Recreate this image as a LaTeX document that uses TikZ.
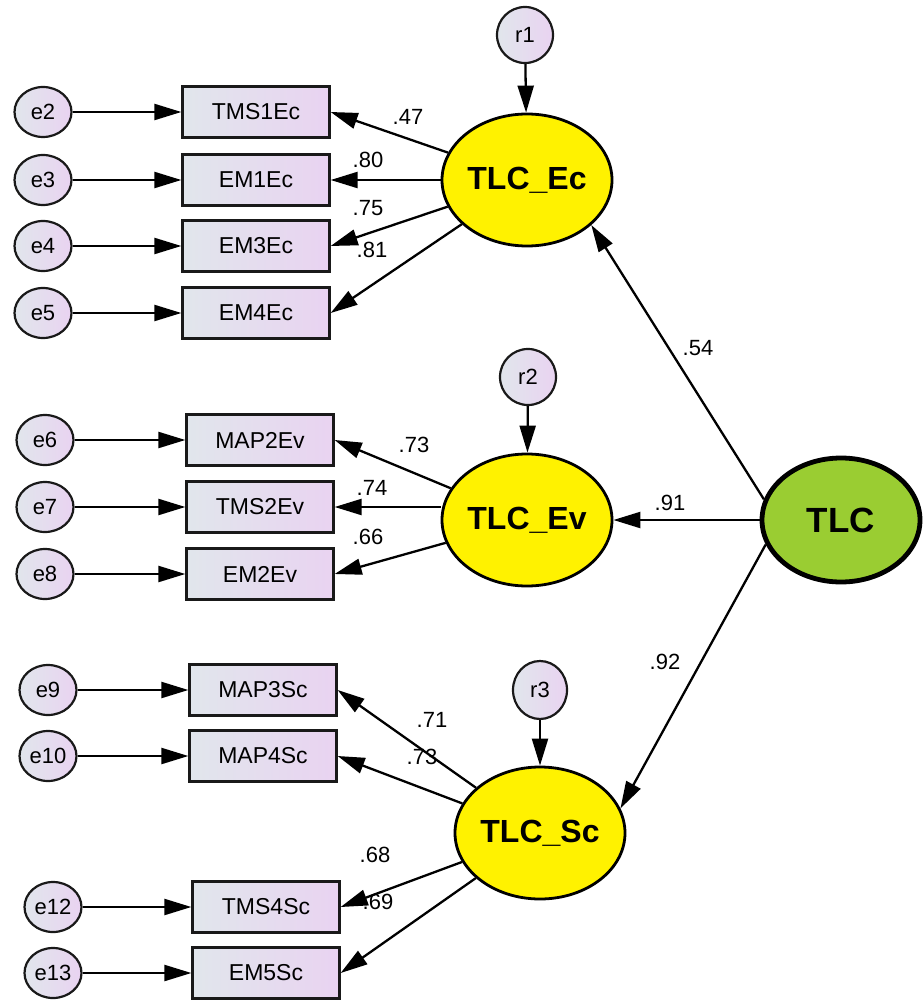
\documentclass[tikz,border=0pt]{standalone}
\usepackage{fontspec}
\setmainfont{Liberation Sans}
\usetikzlibrary{arrows.meta,shapes.geometric}
\definecolor{boxL}{HTML}{E1E6EC}
\definecolor{boxR}{HTML}{E9D3F1}
\definecolor{tlcgreen}{HTML}{9ACD32}
\tikzset{
  obs/.style={rectangle, draw=black!90, line width=2.3pt, minimum width=147pt,
    minimum height=51pt, inner sep=0pt, left color=boxL, right color=boxR,
    font=\fontsize{23}{26}\selectfont},
  err/.style={ellipse, draw=black!90, line width=2.2pt, minimum width=57pt,
    minimum height=50pt, inner sep=0pt, left color=boxL, right color=boxR,
    font=\fontsize{22}{25}\selectfont},
  resid/.style={err, minimum width=56pt, minimum height=56pt,
    font=\fontsize{22}{25}\selectfont},
  lat/.style={ellipse, draw, line width=2.8pt, fill=yellow, minimum width=170pt,
    minimum height=132pt, inner sep=0pt, font=\bfseries\fontsize{32}{36}\selectfont},
  toplat/.style={lat, fill=tlcgreen, line width=4.8pt, minimum width=158pt,
    minimum height=124pt, font=\bfseries\fontsize{35}{40}\selectfont},
  arr/.style={-{Triangle[length=27pt,width=16pt]}, line width=2.3pt},
  coef/.style={inner sep=0pt, font=\fontsize{22}{25}\selectfont}
}
\begin{document}
\begin{tikzpicture}[x=1pt,y=-1pt]
\useasboundingbox (0,0) rectangle (922,1000);

% second-order factor
\node[toplat] (TLC) at (841,520) {TLC};

% first-order factors and their residuals
\node[lat] (Ec) at (527,180) {TLC\_Ec};
\node[lat] (Ev) at (527,520) {TLC\_Ev};
\node[lat] (Sc) at (540,833) {TLC\_Sc};
\node[resid] (r1) at (525,35) {r1};
\node[resid] (r2) at (528,377) {r2};
\node[resid, minimum width=54pt, minimum height=58pt] (r3) at (540,690) {r3};

% indicators of TLC_Ec
\node[obs] (TMS1Ec) at (256,112) {TMS1Ec};
\node[obs] (EM1Ec)  at (256,180) {EM1Ec};
\node[obs] (EM3Ec)  at (256,246) {EM3Ec};
\node[obs] (EM4Ec)  at (256,313) {EM4Ec};
\node[err] (e2) at (43,112) {e2};
\node[err] (e3) at (43,180) {e3};
\node[err] (e4) at (43,246) {e4};
\node[err] (e5) at (43,313) {e5};

% indicators of TLC_Ev
\node[obs] (MAP2Ev) at (260,440) {MAP2Ev};
\node[obs] (TMS2Ev) at (260,507) {TMS2Ev};
\node[obs] (EM2Ev)  at (260,574) {EM2Ev};
\node[err] (e6) at (45,440) {e6};
\node[err] (e7) at (45,507) {e7};
\node[err] (e8) at (45,574) {e8};

% indicators of TLC_Sc
\node[obs] (MAP3Sc) at (263,690) {MAP3Sc};
\node[obs] (MAP4Sc) at (263,756) {MAP4Sc};
\node[obs] (TMS4Sc) at (266,907) {TMS4Sc};
\node[obs] (EM5Sc)  at (266,973) {EM5Sc};
\node[err] (e9)  at (48,690) {e9};
\node[err] (e10) at (48,756) {e10};
\node[err] (e12) at (53,907) {e12};
\node[err] (e13) at (53,973) {e13};

% error paths
\foreach \e/\v in {e2/TMS1Ec,e3/EM1Ec,e4/EM3Ec,e5/EM4Ec,e6/MAP2Ev,e7/TMS2Ev,
                   e8/EM2Ev,e9/MAP3Sc,e10/MAP4Sc,e12/TMS4Sc,e13/EM5Sc}
  \draw[arr] (\e) -- (\v.west);

% residual paths
\draw[arr] (r1) -- (Ec);
\draw[arr] (r2) -- (Ev);
\draw[arr] (r3) -- (Sc);

% loadings
\foreach \f/\v in {Ec/TMS1Ec,Ec/EM1Ec,Ec/EM3Ec,Ec/EM4Ec,Ev/MAP2Ev,
                   Ev/EM2Ev,Sc/MAP3Sc,Sc/MAP4Sc,Sc/TMS4Sc,Sc/EM5Sc}
  \draw[arr] (\f) -- (\v.east);
\draw[arr] (TMS2Ev.east -| Ev.west) -- (TMS2Ev.east);

% structural paths
\draw[arr] (TLC.165) -- (Ec.325);
\draw[arr] (TLC.west) -- (Ev.east);
\draw[arr] (TLC.198) -- (Sc.17);

% standardized coefficients
\node[coef] at (408,117) {.47};
\node[coef] at (368,160) {.80};
\node[coef] at (368,208) {.75};
\node[coef] at (372,250) {.81};
\node[coef] at (414,445) {.73};
\node[coef] at (372,488) {.74};
\node[coef] at (368,537) {.66};
\node[coef] at (432,720) {.71};
\node[coef] at (422,757) {.73};
\node[coef] at (375,855) {.68};
\node[coef] at (378,902) {.69};
\node[coef] at (698,348) {.54};
\node[coef] at (670,503) {.91};
\node[coef] at (665,662) {.92};
\end{tikzpicture}
\end{document}
